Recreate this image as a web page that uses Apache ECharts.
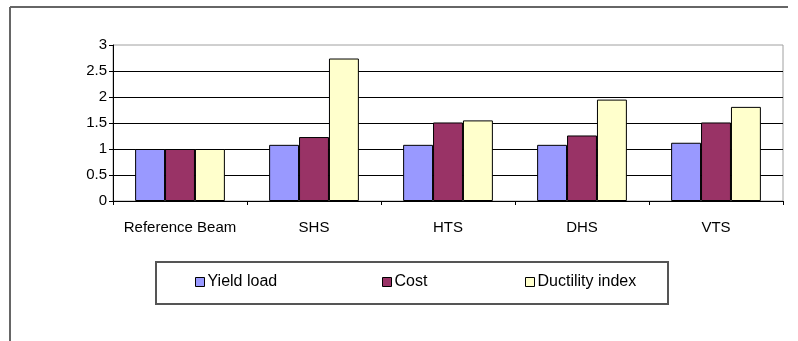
<!DOCTYPE html>
<html>
<head>
<meta charset="utf-8">
<script src="https://cdn.jsdelivr.net/npm/echarts@6/dist/echarts.min.js"></script>
<style>
html,body{margin:0;padding:0;background:#fff;}
#chart{width:798px;height:341px;}
</style>
</head>
<body>
<div id="chart"></div>
<script>
var categories = ['Reference Beam', 'SHS', 'HTS', 'DHS', 'VTS'];
var yieldLoad = [1, 1.08, 1.08, 1.08, 1.12];
var cost = [1, 1.23, 1.51, 1.26, 1.51];
var ductility = [1, 2.74, 1.55, 1.95, 1.81];
var seriesNames = ['Yield load', 'Cost', 'Ductility index'];
var yTicks = [0, 0.5, 1, 1.5, 2, 2.5, 3];

var FONT = "'Liberation Sans', Arial, sans-serif";
var colors = ['#9999FF', '#993366', '#FFFFCC'];
var chart = echarts.init(document.getElementById('chart'), null, {renderer: 'canvas'});
var values = [yieldLoad, cost, ductility];
var legendLefts = [195, 382, 525];

chart.setOption({
  animation: false,
  backgroundColor: '#fff',
  textStyle: {fontFamily: FONT},
  grid: {left: 113, right: 15, top: 45, bottom: 140, show: true, borderColor: '#a0a0a0', borderWidth: 1, backgroundColor: 'transparent'},
  xAxis: {
    type: 'category',
    data: categories,
    axisLine: {lineStyle: {color: '#000', width: 1}},
    axisTick: {show: true, length: 4, lineStyle: {color: '#000'}},
    axisLabel: {color: '#000', fontSize: 15, fontFamily: FONT, margin: 19, interval: 0}
  },
  yAxis: {
    type: 'value',
    min: yTicks[0],
    max: yTicks[yTicks.length - 1],
    interval: 0.5,
    axisLine: {show: true, lineStyle: {color: '#000', width: 1}},
    axisTick: {show: true, length: 4, lineStyle: {color: '#000'}},
    axisLabel: {color: '#000', fontSize: 15, fontFamily: FONT, margin: 6},
    splitLine: {show: true, showMaxLine: false, lineStyle: {color: '#000', width: 1}}
  },
  legend: seriesNames.map(function (name, i) {
    return {
      data: [name],
      left: legendLefts[i],
      top: 274,
      padding: 0,
      icon: 'rect',
      itemWidth: 9,
      itemHeight: 9,
      itemStyle: {borderColor: '#000', borderWidth: 1},
      textStyle: {color: '#000', fontSize: 16, fontFamily: FONT, padding: [0, 0, 0, -2]}
    };
  }),
  graphic: [
    {type: 'line', shape: {x1: 10, y1: 7, x2: 788, y2: 7}, style: {stroke: '#666', lineWidth: 2}},
    {type: 'line', shape: {x1: 10, y1: 7, x2: 10, y2: 341}, style: {stroke: '#666', lineWidth: 2}},
    {type: 'rect', shape: {x: 156, y: 262, width: 512, height: 42}, style: {fill: 'none', stroke: '#555', lineWidth: 2}}
  ],
  series: seriesNames.map(function (name, i) {
    return {
      name: name,
      type: 'bar',
      data: values[i],
      barGap: '0%',
      barCategoryGap: '33%',
      itemStyle: {color: colors[i], borderColor: '#000', borderWidth: 1}
    };
  })
});
</script>
</body>
</html>
